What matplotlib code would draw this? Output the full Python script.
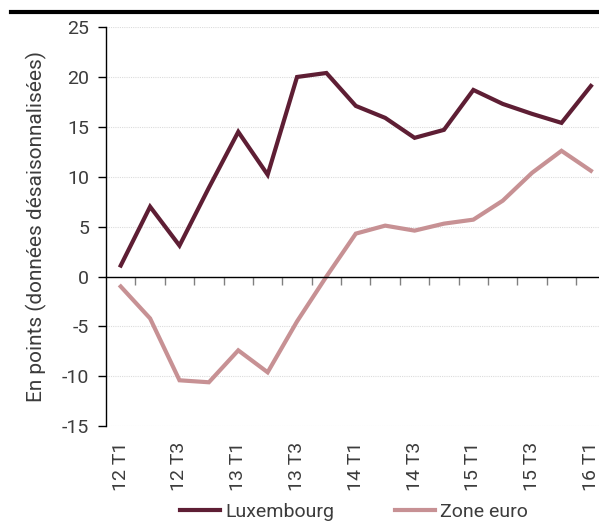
import matplotlib
matplotlib.use("Agg")
import matplotlib.pyplot as plt
import numpy as np

# trimestres 2012 T1 -> 2016 T1
quarters = ["12 T1", "12 T2", "12 T3", "12 T4", "13 T1", "13 T2", "13 T3", "13 T4",
            "14 T1", "14 T2", "14 T3", "14 T4", "15 T1", "15 T2", "15 T3", "15 T4", "16 T1"]
luxembourg = [1.1, 7.0, 3.1, 8.9, 14.5, 10.2, 20.0, 20.4,
              17.1, 15.9, 13.9, 14.7, 18.7, 17.3, 16.3, 15.4, 19.1]
zone_euro = [-1.0, -4.2, -10.4, -10.6, -7.4, -9.6, -4.5, 0.0,
             4.3, 5.1, 4.6, 5.3, 5.7, 7.6, 10.4, 12.6, 10.6]
yticks = [-15, -10, -5, 0, 5, 10, 15, 20, 25]

txt = "#3c3c3c"
fs = 14
plt.rcParams['font.family'] = ['Roboto', 'DejaVu Sans']
plt.rcParams['font.size'] = fs
plt.rcParams['axes.unicode_minus'] = False

fig = plt.figure(figsize=(5.99, 5.21), dpi=100)
ax = fig.add_axes([0.177, 0.182, 0.834, 0.766])

x = np.arange(len(quarters))
ax.plot(x, luxembourg, color="#5e1e34", lw=3, label="Luxembourg", solid_joinstyle="miter")
ax.plot(x, zone_euro, color="#c79194", lw=3, label="Zone euro", solid_joinstyle="miter")

ax.set_xlim(-0.5, len(quarters) - 0.5)
ax.set_ylim(-15, 25)
ax.set_yticks(yticks)
ax.yaxis.grid(True, color="#dcdcdc", lw=0.8, linestyle=(0, (1, 1)))
ax.set_axisbelow(True)

for s in ["top", "right"]:
    ax.spines[s].set_visible(False)
ax.spines["left"].set_color("black")
ax.spines["left"].set_linewidth(1)
ax.spines["bottom"].set_position(("data", 0))
ax.spines["bottom"].set_linewidth(1)
ax.tick_params(axis="y", length=6, width=1, labelcolor=txt, color="black", labelsize=fs, pad=6)

# marques d'axe entre les categories, sur la ligne zero
ax.set_xticks(np.arange(0.5, len(quarters) - 0.5, 1.0))
ax.tick_params(axis="x", length=6, width=1, color="#808080", labelbottom=False)

# etiquettes des trimestres en bas
sec = ax.secondary_xaxis(-0.0)
sec.set_xticks(x[::2])
sec.set_xticklabels(quarters[::2], rotation=90, color=txt)
sec.tick_params(length=0, pad=11, labelsize=fs)
sec.spines["bottom"].set_visible(False)

ax.set_ylabel("En points (données désaisonnalisées)", color=txt, fontsize=15, labelpad=11)

fig.legend(loc="lower center", bbox_to_anchor=(0.591, -0.033), ncol=2, frameon=False,
           handlelength=2.05, columnspacing=3.15, handletextpad=0.25, labelcolor=txt)

# trait noir en haut
fig.add_artist(plt.Line2D([0.018, 1.0], [0.977, 0.977], color="black", lw=3,
                          transform=fig.transFigure))

fig.savefig("out.png", dpi=100)
